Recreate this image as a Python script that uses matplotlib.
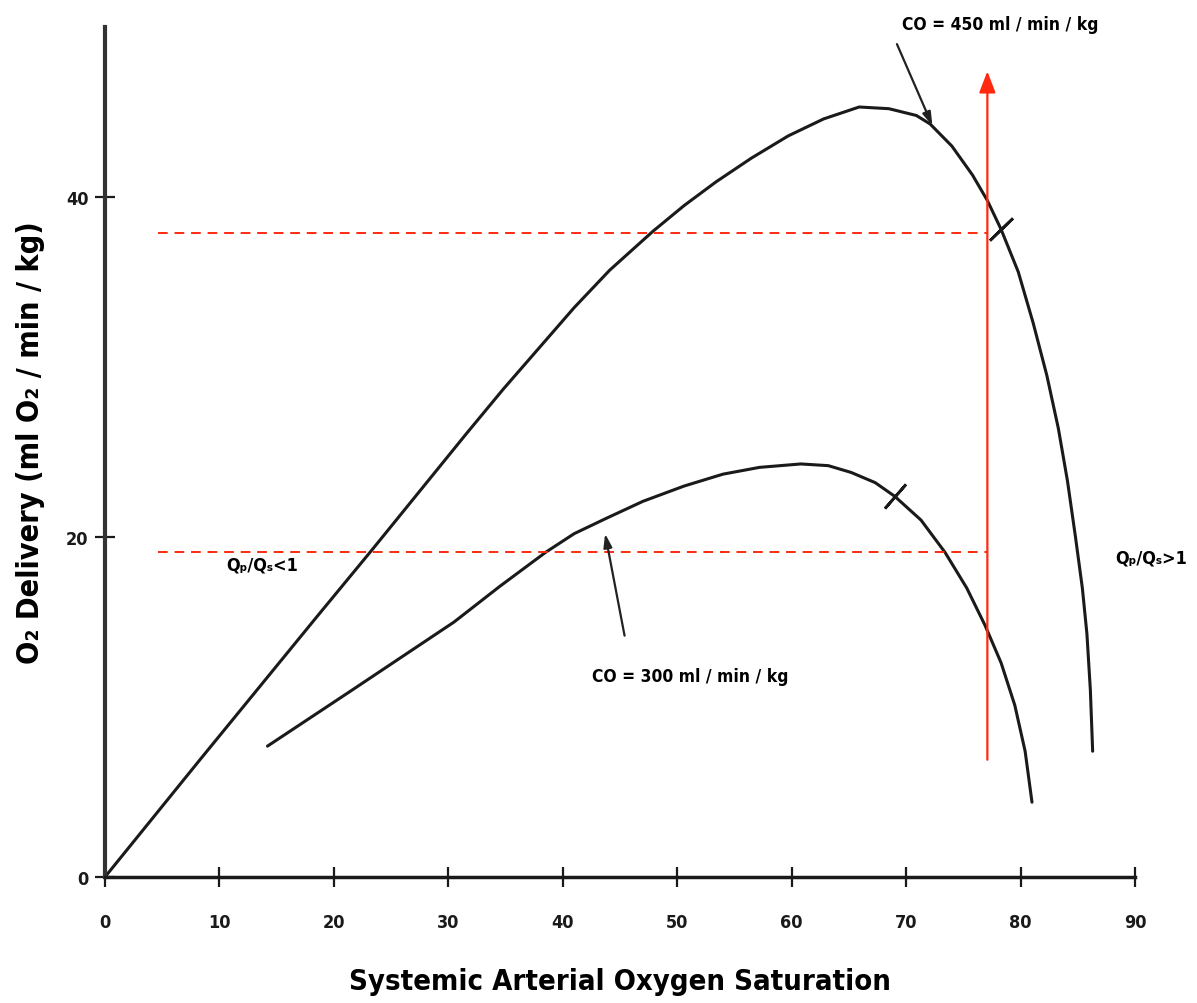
import matplotlib
matplotlib.use("Agg")
import matplotlib.pyplot as plt

plt.rcParams['font.family'] = ['DejaVu Sans']
plt.rcParams['font.stretch'] = 'condensed'
plt.rcParams['font.weight'] = 'bold'

# CO = 450 ml/min/kg curve
sat_450 = [0, 8.3, 18.5, 23.4, 27.5, 31.6, 34.8, 37.9, 41.0, 44.1, 47.9, 50.6, 53.4,
           56.5, 59.7, 62.8, 65.9, 68.5, 70.9, 72.1, 74.0, 75.8, 77.1, 78.3, 79.8,
           81.1, 82.3, 83.3, 84.1, 84.8, 85.4, 85.8, 86.1, 86.3]
do2_450 = [0, 6.9, 15.3, 19.3, 22.7, 26.1, 28.7, 31.1, 33.5, 35.7, 38.0, 39.5, 40.9,
           42.3, 43.6, 44.6, 45.3, 45.2, 44.8, 44.3, 43.0, 41.3, 39.8, 38.1, 35.6,
           32.6, 29.5, 26.4, 23.3, 20.0, 17.0, 14.3, 11.0, 7.4]

# CO = 300 ml/min/kg curve
sat_300 = [14.2, 21.6, 30.5, 34.5, 38.5, 41.0, 43.8, 47.0, 50.6, 54.0, 57.2, 60.8,
           63.2, 65.2, 67.3, 69.0, 71.3, 73.4, 75.3, 76.9, 78.3, 79.5, 80.4, 81.0]
do2_300 = [7.7, 11.0, 15.0, 17.1, 19.1, 20.2, 21.1, 22.1, 23.0, 23.7, 24.1, 24.3,
           24.2, 23.8, 23.2, 22.4, 21.0, 19.1, 17.0, 14.8, 12.6, 10.1, 7.4, 4.4]

# tick marks on the curves
tick_sat = [78.3, 69.0]
tick_do2 = [38.1, 22.4]
tick_rot = [-46, -41]

# red guide lines
guide_levels = [37.9, 19.1]
guide_x0, guide_x1 = 4.6, 77.1
arrow_y0, arrow_y1 = 6.9, 47.4

# labels and their pointer arrows (text pos, arrow tail, arrow head)
co_labels = ['CO = 450 ml / min / kg', 'CO = 300 ml / min / kg']
co_text_pos = [(78.2, 50.2), (51.1, 11.8)]
co_tail = [(69.2, 49.0), (45.4, 14.2)]
co_head = [(72.3, 44.2), (43.7, 20.2)]

x_ticks = [0, 10, 20, 30, 40, 50, 60, 70, 80, 90]
y_ticks = [0, 20, 40]

fig = plt.figure(figsize=(11.97, 10.04), dpi=100)
ax = fig.add_axes([0.0877, 0.1255, 0.8605, 0.8465])
ax.set_xlim(0, 90)
ax.set_ylim(0, 50)

ax.plot(sat_450, do2_450, color='#1a1a1a', lw=2.2, solid_capstyle='round',
        solid_joinstyle='round', clip_on=False)
ax.plot(sat_300, do2_300, color='#1a1a1a', lw=2.2, solid_capstyle='round',
        solid_joinstyle='round', clip_on=False)
for sx, dy, rot in zip(tick_sat, tick_do2, tick_rot):
    ax.plot(sx, dy, marker=(2, 2, rot), markersize=23, markeredgewidth=2,
            color='#1a1a1a', clip_on=False)

red = '#ff2a10'
for lvl in guide_levels:
    ax.plot([guide_x0, guide_x1], [lvl, lvl], color=red, lw=1.4, ls=(0, (5, 3.5)))
ax.annotate('', xy=(guide_x1, arrow_y1), xytext=(guide_x1, arrow_y0),
            arrowprops=dict(arrowstyle='-|>,head_length=1.3,head_width=0.5',
                            color=red, lw=1.6, shrinkA=0, shrinkB=0),
            annotation_clip=False)

# annotations
for lab, pos, tail, head in zip(co_labels, co_text_pos, co_tail, co_head):
    ax.text(pos[0], pos[1], lab, ha='center', va='center', fontsize=12.5, clip_on=False)
    ax.annotate('', xy=head, xytext=tail, annotation_clip=False,
                arrowprops=dict(arrowstyle='-|>,head_length=0.8,head_width=0.25',
                                color='#222222', lw=1.6, shrinkA=0, shrinkB=0))
ax.text(13.7, 18.4, 'Q\u209a/Q\u209b<1', ha='center', va='center', fontsize=13)
ax.text(91.4, 18.8, 'Q\u209a/Q\u209b>1', ha='center', va='center', fontsize=13,
        clip_on=False)

for s in ['top', 'right']:
    ax.spines[s].set_visible(False)
ax.spines['left'].set_linewidth(3)
ax.spines['left'].set_color('#333333')
ax.spines['bottom'].set_linewidth(2.5)
ax.spines['bottom'].set_color('#1a1a1a')

ax.set_xticks(x_ticks)
ax.set_yticks(y_ticks)
ax.tick_params(axis='both', direction='inout', length=14, width=1.6, labelsize=13, colors='#1a1a1a')
ax.tick_params(axis='x', pad=19)
ax.tick_params(axis='y', pad=5)
for lab in ax.get_xticklabels() + ax.get_yticklabels():
    lab.set_fontweight('bold')

ax.set_xlabel('Systemic Arterial Oxygen Saturation', fontsize=21, fontweight='bold')
ax.set_ylabel('O\u2082 Delivery (ml O\u2082 / min / kg)', fontsize=22, fontweight='bold')
ax.xaxis.set_label_coords(0.5, -0.106)
ax.yaxis.set_label_coords(-0.058, 0.512)

fig.savefig('out.png', dpi=100, facecolor='white')
